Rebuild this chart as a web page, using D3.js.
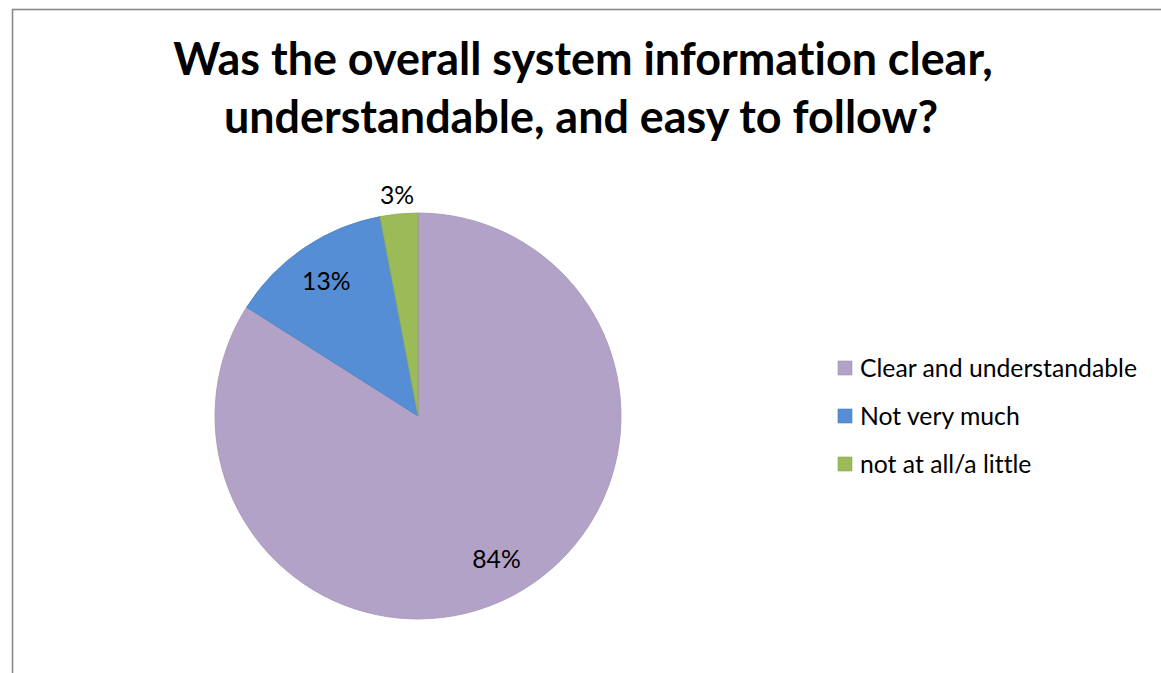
<!DOCTYPE html>
<html>
<head>
<meta charset="utf-8">
<script src="https://cdn.jsdelivr.net/npm/d3@7"></script>
<style>
  html, body { margin: 0; padding: 0; background: #fff; }
  svg { display: block; }
  svg text { font-variant-ligatures: none; font-feature-settings: "liga" 0, "clig" 0; }
</style>
</head>
<body>
<svg id="chart" width="1161" height="673"></svg>
<script>
const categories = ["Clear and understandable", "Not very much", "not at all/a little"];
const values = [84, 13, 3];
const valueLabels = ["84%", "13%", "3%"];
const colors = ["#B3A2C7", "#558ED5", "#9BBB59"];
const titleLines = ["Was the overall system information clear,", "understandable, and easy to follow?"];

const svg = d3.select("#chart");
const W = 1161, H = 673;
const FONT = "Lato, 'Open Sans', 'DejaVu Sans', sans-serif";

// frame
svg.append("rect")
  .attr("x", 12.5).attr("y", 9.5)
  .attr("width", W + 20).attr("height", H + 20)
  .attr("fill", "#fff")
  .attr("stroke", "#8a8a8a").attr("stroke-width", 1.6);

function fitWidth(sel, target) {
  const node = sel.node();
  const fs = parseFloat(sel.attr("font-size"));
  const w = node.getComputedTextLength();
  if (w > 0) sel.attr("font-size", fs * target / w);
}

// title
const t1 = svg.append("text")
  .attr("x", 583).attr("y", 75)
  .attr("text-anchor", "middle")
  .attr("font-family", FONT).attr("font-weight", 700)
  .attr("font-size", 44).attr("fill", "#000")
  .text(titleLines[0]);
fitWidth(t1, 820);
const t2 = svg.append("text")
  .attr("x", 581).attr("y", 133)
  .attr("text-anchor", "middle")
  .attr("font-family", FONT).attr("font-weight", 700)
  .attr("font-size", t1.attr("font-size")).attr("fill", "#000")
  .text(titleLines[1]);

// pie
const cx = 418, cy = 416, R = 203;
const pie = d3.pie().sort(null).value(d => d.v);
const data = categories.map((c, i) => ({ c, v: values[i], color: colors[i], label: valueLabels[i] }));
const arcs = pie(data);
const arc = d3.arc().innerRadius(0).outerRadius(R);
const g = svg.append("g").attr("transform", `translate(${cx},${cy})`);

g.selectAll("path.slice").data(arcs).join("path")
  .attr("class", "slice")
  .attr("d", arc)
  .attr("fill", d => d.data.color)
  .attr("stroke", d => d3.color(d.data.color).darker(0.25))
  .attr("stroke-width", 0.8);

// labels
const inner = d3.arc().innerRadius(163).outerRadius(163);
const outer = d3.arc().innerRadius(R + 19).outerRadius(R + 19);
g.selectAll("text.lbl").data(arcs).join("text")
  .attr("class", "lbl")
  .attr("transform", d => {
    const p = (d.endAngle - d.startAngle) < 0.4 ? outer.centroid(d) : inner.centroid(d);
    return `translate(${p[0]},${p[1]})`;
  })
  .attr("text-anchor", "middle")
  .attr("dy", "0.36em")
  .attr("font-family", FONT)
  .attr("font-size", 21)
  .attr("fill", "#000")
  .text(d => d.data.label);

// legend
const leg = svg.append("g");
const rowY = d3.scalePoint().domain(categories).range([368, 464]);
categories.forEach((c, i) => {
  const y = rowY(c);
  leg.append("rect")
    .attr("x", 838).attr("y", y - 7)
    .attr("width", 14).attr("height", 14)
    .attr("fill", colors[i])
    .attr("stroke", d3.color(colors[i]).darker(0.3))
    .attr("stroke-width", 0.6);
  const t = leg.append("text")
    .attr("x", 860).attr("y", y)
    .attr("dy", "0.35em")
    .attr("font-family", FONT)
    .attr("font-size", 21)
    .attr("fill", "#000")
    .text(c);
  if (i === 0) fitWidth(t, 277);
});
const legFs = leg.select("text").attr("font-size");
leg.selectAll("text").attr("font-size", legFs);
g.selectAll("text.lbl").attr("font-size", legFs);
</script>
</body>
</html>
